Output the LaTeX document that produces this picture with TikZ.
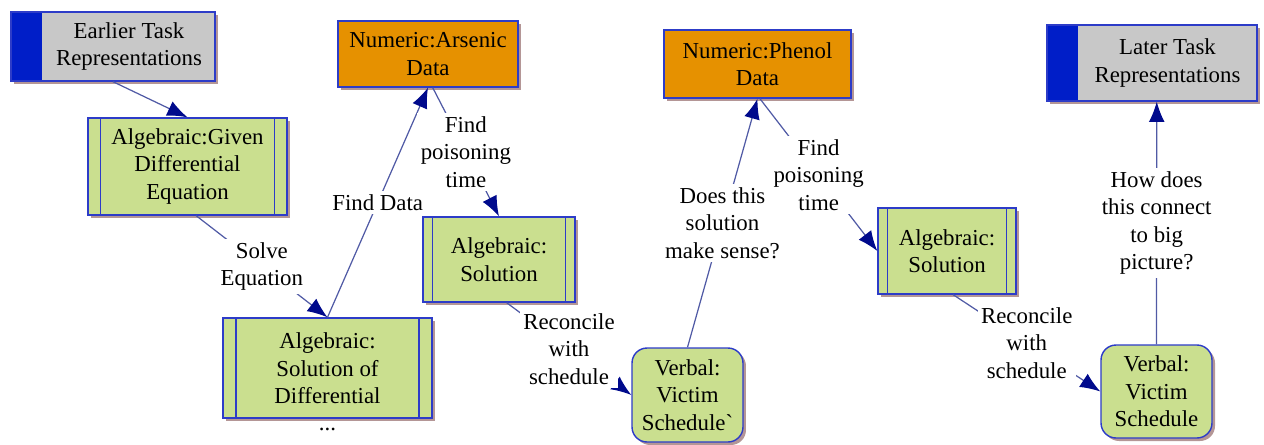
\documentclass[tikz,border=0pt]{standalone}
\usepackage{fontspec}
\setmainfont{Liberation Serif}
\usetikzlibrary{positioning, arrows.meta, shadows}
\tikzset{>=latex}

\definecolor{bordblue}{RGB}{45,60,200}
\definecolor{bandblue}{RGB}{0,30,200}
\definecolor{taskgray}{RGB}{200,200,200}
\definecolor{algreen}{RGB}{202,223,143}
\definecolor{numorange}{RGB}{230,145,0}
\definecolor{shadowbrown}{RGB}{180,150,150}
\definecolor{linkblue}{RGB}{80,90,165}
\definecolor{tipnavy}{RGB}{0,10,140}

\begin{document}
\begin{tikzpicture}
    [
        x=0.02cm, y=-0.02cm, font=\fontsize{13}{15.6}\selectfont,
        shad/.style={drop shadow={shadow xshift=0.06cm, shadow yshift=-0.06cm, fill=shadowbrown, opacity=1}},
        task_node/.style={rectangle, draw=bordblue, line width=0.8pt, fill=taskgray, shad,
            path picture={\fill[bandblue] (path picture bounding box.north west) rectangle ([xshift=0.62cm]path picture bounding box.south west);}},
        alg_node/.style={rectangle, draw=bordblue, line width=0.8pt, fill=algreen, shad, align=center,
            path picture={\draw[bordblue, line width=0.8pt] ([xshift=#1]path picture bounding box.north west) -- ([xshift=#1]path picture bounding box.south west);
                          \draw[bordblue, line width=0.8pt] ([xshift=-#1]path picture bounding box.north east) -- ([xshift=-#1]path picture bounding box.south east);}},
        alg_node/.default=0.25cm,
        num_node/.style={rectangle, draw=bordblue, line width=0.8pt, fill=numorange, shad, align=center},
        verb_node/.style={rectangle, rounded corners=0.3cm, draw=bordblue, line width=0.8pt, fill=algreen, shad, align=center},
        link/.style={draw=linkblue, line width=0.7pt, -{Latex[length=11.5pt, width=9pt, color=tipnavy]}},
        link_label/.style={fill=white, align=center, inner sep=2pt},
    ]
  \useasboundingbox (0,0) rectangle (1264,444);

  \node[task_node, minimum width=4.08cm, minimum height=1.38cm, label={[xshift=0.32cm, align=center]center:Earlier Task\\Representations}] (early) at (113,46.5) {};
  \node[alg_node, minimum width=3.98cm, minimum height=1.94cm] (givenDE) at (187.5,166.5) {Algebraic:Given\\Differential\\Equation};
  \node[alg_node=0.26cm, minimum width=4.18cm, minimum height=2cm, label={[yshift=-0.28cm, align=center]center:Algebraic:\\Solution of\\Differential\\...}] (solDE) at (327.5,368) {};
  \node[num_node, minimum width=3.6cm, minimum height=1.32cm] (arsenic) at (428,54) {Numeric:Arsenic\\Data};
  \node[alg_node=0.19cm, minimum width=3.04cm, minimum height=1.7cm] (sol1) at (499,259.5) {Algebraic:\\Solution};
  \node[verb_node, minimum width=2.22cm, minimum height=1.88cm] (victim1) at (687.5,395) {Verbal:\\Victim\\Schedule\textasciigrave};
  \node[num_node, minimum width=3.74cm, minimum height=1.36cm] (phenol) at (757.5,64) {Numeric:Phenol\\Data};
  \node[alg_node=0.19cm, minimum width=2.76cm, minimum height=1.72cm] (sol2) at (947,251) {Algebraic:\\Solution};
  \node[verb_node, minimum width=2.22cm, minimum height=1.86cm] (victim2) at (1156.5,391.5) {Verbal:\\Victim\\Schedule};
  \node[task_node, minimum width=4.2cm, minimum height=1.52cm, label={[xshift=0.31cm, align=center]center:Later Task\\Representations}] (later) at (1152,63) {};

  \draw[link] (early.south) -- (givenDE.north);
  \draw[link] (givenDE.-80) -- node[link_label] {Solve\\Equation} (solDE.north);
  \draw[link] (solDE.north) -- node[link_label] {Find Data} (arsenic.south);
  \draw[link] (arsenic.-82) -- node[link_label] {Find\\poisoning\\time} (sol1.north);
  \draw[link] (sol1.-80) -- node[link_label] {Reconcile\\with\\schedule} (victim1.west);
  \draw[link] (victim1.north) -- node[link_label] {Does this\\solution\\make sense?} (phenol.south);
  \draw[link] (phenol.-86) -- node[link_label] {Find\\poisoning\\time} (sol2.west);
  \draw[link] (sol2.-82) -- node[link_label] {Reconcile\\with\\schedule} (victim2.west);
  \draw[link] (victim2.north) -- node[link_label] {How does\\this connect\\to big\\picture?} (later.-83);
\end{tikzpicture}
\end{document}
